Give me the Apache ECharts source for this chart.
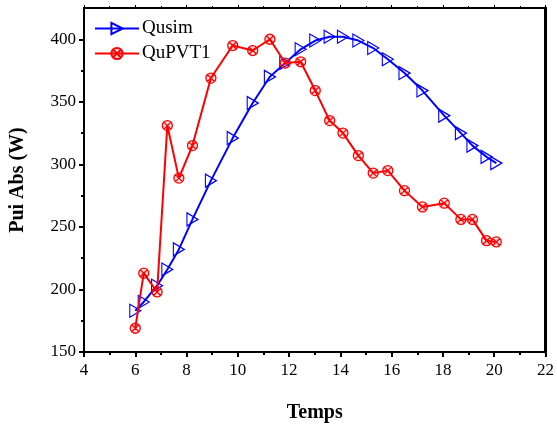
<!DOCTYPE html>
<html>
<head>
<meta charset="utf-8">
<script src="https://cdn.jsdelivr.net/npm/echarts@6/dist/echarts.min.js"></script>
<style>
html,body{margin:0;padding:0;background:#fff;}
#chart{width:557px;height:428px;}
</style>
</head>
<body>
<div id="chart"></div>
<script>
// Data
const times = [6, 6.33, 6.85, 7.25, 7.7, 8.23, 8.95, 9.8, 10.58, 11.25, 11.85, 12.45, 13.02, 13.58, 14.1, 14.7, 15.28, 15.85, 16.5, 17.2, 18.05, 18.7, 19.15, 19.7, 20.08];
const qusim = [183, 190, 203, 216, 232, 256, 287, 321, 349, 370, 381, 392, 399, 402, 402, 399, 393, 384, 373, 359, 339, 325, 315, 306, 301];
const qupvt1 = [169, 213, 198, 331, 289, 315, 369, 395, 391, 400, 381, 382, 359, 335, 325, 307, 293, 295, 279, 266, 269, 256, 256, 239, 238];
const yMajor = [150, 200, 250, 300, 350, 400];
const yMinor = [175, 225, 275, 325, 375];
const seriesNames = ['Qusim', 'QuPVT1'];

const FONT = '"Liberation Serif", "Times New Roman", serif';
const chart = echarts.init(document.getElementById('chart'));
const pair = (xs, ys) => xs.map((x, i) => [x, ys[i]]);
const circX = 'path://M10,0A10,10,0,1,1,10,20A10,10,0,1,1,10,0ZM3,3L17,17M17,3L3,17';

chart.setOption({
  animation: false,
  backgroundColor: '#fff',
  grid: {left: 83, right: 11, top: 8, bottom: 75},
  legend: {
    orient: 'vertical', left: 89, top: 14, itemGap: 6,
    itemWidth: 44, itemHeight: 14,
    textStyle: {fontFamily: FONT, fontSize: 19, color: '#000', padding: [0, 0, 0, -2]},
    data: seriesNames
  },
  xAxis: [{
    type: 'value', position: 'bottom', min: 4, max: 22, interval: 2,
    name: 'Temps', nameLocation: 'middle', nameGap: 51,
    nameTextStyle: {fontFamily: FONT, fontSize: 20, fontWeight: 'bold', color: '#000'},
    axisLine: {show: true, lineStyle: {color: '#000', width: 2}},
    axisTick: {show: true, inside: false, length: 5, lineStyle: {color: '#000', width: 2}},
    minorTick: {show: true, splitNumber: 2, length: 3, lineStyle: {color: '#000', width: 2}},
    axisLabel: {fontFamily: FONT, fontSize: 17, color: '#000', margin: 10},
    splitLine: {show: false}
  }, {
    type: 'value', position: 'top', min: 4, max: 22, interval: 2,
    axisLine: {show: true, lineStyle: {color: '#000', width: 2}},
    axisTick: {show: true, inside: false, length: 3, lineStyle: {color: '#000', width: 1}},
    minorTick: {show: true, splitNumber: 2, length: 2, lineStyle: {color: '#000', width: 1}},
    axisLabel: {show: false},
    splitLine: {show: false}
  }],
  yAxis: [{
    type: 'value', position: 'left', min: 150, max: 425, interval: 50,
    name: 'Pui Abs (W)', nameLocation: 'middle', nameGap: 56,
    nameTextStyle: {fontFamily: FONT, fontSize: 20, fontWeight: 'bold', color: '#000'},
    axisLine: {show: true, lineStyle: {color: '#000', width: 2}},
    axisTick: {show: true, inside: false, length: 5, customValues: yMajor, lineStyle: {color: '#000', width: 2}},
    axisLabel: {fontFamily: FONT, fontSize: 17, color: '#000', margin: 8, customValues: yMajor},
    splitLine: {show: false}
  }, {
    type: 'value', position: 'left', min: 150, max: 425,
    axisLine: {show: false},
    axisTick: {show: true, inside: false, length: 3, customValues: yMinor, lineStyle: {color: '#000', width: 2}},
    axisLabel: {show: false},
    splitLine: {show: false}
  }, {
    type: 'value', position: 'right', min: 150, max: 425,
    axisLine: {show: true, lineStyle: {color: '#000', width: 3}},
    axisTick: {show: false},
    axisLabel: {show: false},
    splitLine: {show: false}
  }],
  series: [{
    name: seriesNames[0], type: 'line', xAxisIndex: 0, yAxisIndex: 0,
    data: pair(times, qusim),
    symbol: 'triangle', symbolRotate: -90, symbolSize: [13, 11],
    lineStyle: {color: '#0000ff', width: 2},
    itemStyle: {color: 'rgba(255,255,255,0)', borderColor: '#0000ff', borderWidth: 1.2},
    z: 2
  }, {
    name: seriesNames[1], type: 'line', xAxisIndex: 0, yAxisIndex: 0,
    data: pair(times, qupvt1),
    symbol: circX, symbolSize: 10,
    lineStyle: {color: '#ff0000', width: 2},
    itemStyle: {color: 'rgba(255,0,0,0.12)', borderColor: '#ff0000', borderWidth: 1.3},
    z: 3
  }]
});
</script>
</body>
</html>
